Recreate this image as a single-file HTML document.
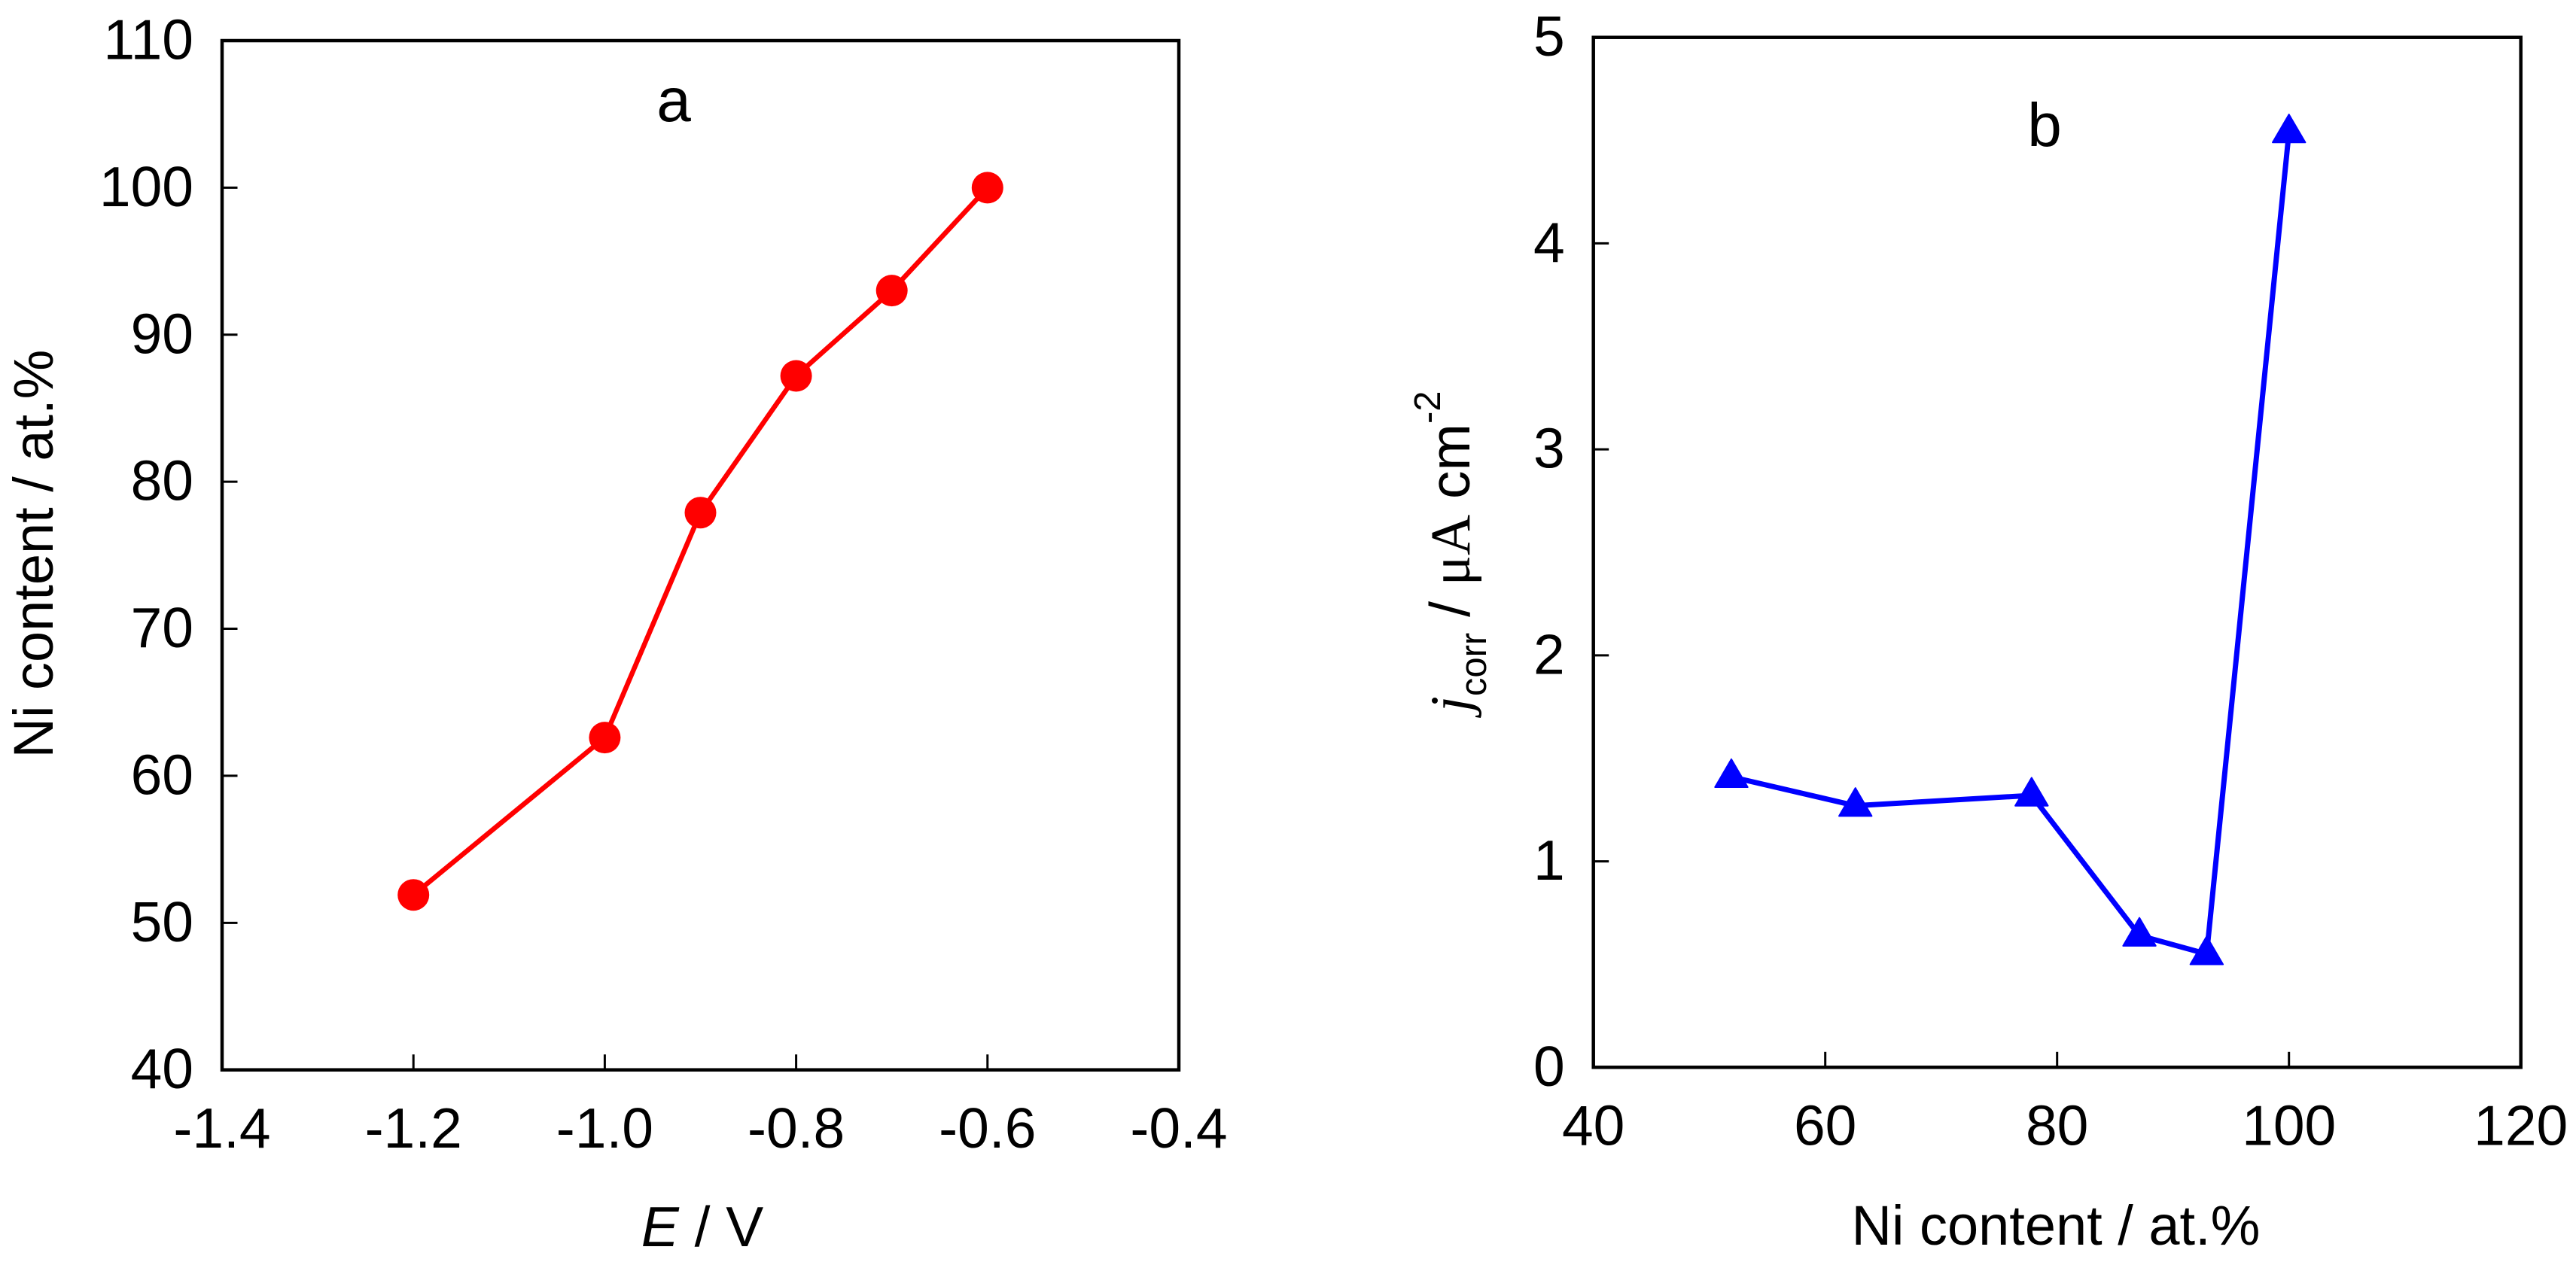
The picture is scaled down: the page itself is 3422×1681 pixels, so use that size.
<!DOCTYPE html>
<html lang="en">
<head>
<meta charset="utf-8">
<title>Ni content and corrosion current charts</title>
<style>
html,body{margin:0;padding:0;background:#fff;}
svg{display:block;}
text{font-family:"Liberation Sans",Arial,sans-serif;font-size:75px;fill:#000;}
</style>
</head>
<body>
<svg id="figure" xmlns="http://www.w3.org/2000/svg" width="3422" height="1681" viewBox="0 0 3422 1681">
  <rect x="0" y="0" width="3422" height="1681" fill="#fff"/>
  <g id="panel-a">
    <rect x="295" y="54" width="1271" height="1367.7" fill="none" stroke="#000" stroke-width="4.5"/>
    <text x="895" y="161" text-anchor="middle" style="font-size:82px">a</text>
    <text x="933" y="1656" text-anchor="middle"><tspan font-style="italic">E</tspan> / V</text>
    <text transform="translate(70 736) rotate(-90)" text-anchor="middle" style="font-size:74px">Ni content / at.%</text>
  </g>
  <g id="panel-b">
    <rect x="2116.7" y="49.7" width="1232" height="1368.6" fill="none" stroke="#000" stroke-width="4.5"/>
    <text x="2716" y="194" text-anchor="middle" style="font-size:82px">b</text>
    <text x="2731" y="1654" text-anchor="middle" style="font-size:74px">Ni content / at.%</text>
    <text transform="translate(1952 946) rotate(-90)"><tspan font-style="italic" font-family="Liberation Serif">j</tspan><tspan dy="22" style="font-size:49px">corr</tspan><tspan dy="-22"> / </tspan><tspan style="font-family:'Liberation Serif'">μA</tspan><tspan> cm</tspan><tspan dy="-39" style="font-size:49px">-2</tspan></text>
  </g>
</svg>
<script>
// Panel a data
const aXTicks = [-1.4, -1.2, -1.0, -0.8, -0.6, -0.4];
const aYTicks = [40, 50, 60, 70, 80, 90, 100, 110];
const potential = [-1.2, -1.0, -0.9, -0.8, -0.7, -0.6];
const niContent = [51.9, 62.6, 77.9, 87.2, 93.0, 100.0];

// Panel b data
const bXTicks = [40, 60, 80, 100, 120];
const bYTicks = [0, 1, 2, 3, 4, 5];
const bNiContent = [51.9, 62.6, 77.8, 87.1, 92.9, 100.0];
const jCorr = [1.41, 1.27, 1.32, 0.64, 0.55, 4.54];

const NS = 'http://www.w3.org/2000/svg';

function linear(d0, d1, r0, r1) {
  return function (v) { return r0 + (v - d0) * (r1 - r0) / (d1 - d0); };
}
function make(parent, tag, attrs) {
  const el = document.createElementNS(NS, tag);
  for (const k in attrs) el.setAttribute(k, attrs[k]);
  parent.appendChild(el);
  return el;
}

const TICK_LEN = 20.5;

function drawAxes(group, prefix, sx, sy, xTicks, yTicks, xFmt, xLabelOffset) {
  const bottom = sy(yTicks[0]);
  const left = sx(xTicks[0]);
  xTicks.forEach(function (t, i) {
    if (i > 0 && i < xTicks.length - 1) {
      const tick = make(group, 'line', {x1: sx(t), x2: sx(t), y1: bottom, y2: bottom - TICK_LEN, stroke: '#000', 'stroke-width': 3});
      
      
    }
    const label = make(group, 'text', {x: sx(t), y: bottom + xLabelOffset, 'text-anchor': 'middle'});
    label.textContent = xFmt(t);
    
    
  });
  yTicks.forEach(function (t, i) {
    if (i > 0 && i < yTicks.length - 1) {
      const tick = make(group, 'line', {x1: left, x2: left + TICK_LEN, y1: sy(t), y2: sy(t), stroke: '#000', 'stroke-width': 3});
      
      
    }
    const label = make(group, 'text', {x: left - 38, y: sy(t) + 24.5, 'text-anchor': 'end'});
    label.textContent = String(t);
    
    
  });
}

// Panel a
const groupA = document.getElementById('panel-a');
const ax = linear(-1.4, -0.4, 295, 1566);
const ay = linear(40, 110, 1421.7, 54);
drawAxes(groupA, 'panel-a', ax, ay, aXTicks, aYTicks, function (v) { return v.toFixed(1); }, 103.3);

const linePtsA = potential.map(function (v, i) { return ax(v) + ',' + ay(niContent[i]); }).join(' ');
const lineA = make(groupA, 'polyline', {points: linePtsA, fill: 'none', stroke: '#f00', 'stroke-width': 6.5, 'stroke-linejoin': 'round'});


potential.forEach(function (v, i) {
  const c = make(groupA, 'circle', {cx: ax(v), cy: ay(niContent[i]), r: 21, fill: '#f00'});
  
  
});

// Panel b
const groupB = document.getElementById('panel-b');
const bx = linear(40, 120, 2116.7, 3348.7);
const by = linear(0, 5, 1418.3, 49.7);
drawAxes(groupB, 'panel-b', bx, by, bXTicks, bYTicks, function (v) { return String(v); }, 103.4);

const linePtsB = bNiContent.map(function (v, i) { return bx(v) + ',' + by(jCorr[i]); }).join(' ');
const lineB = make(groupB, 'polyline', {points: linePtsB, fill: 'none', stroke: '#00f', 'stroke-width': 7, 'stroke-linejoin': 'round'});


bNiContent.forEach(function (v, i) {
  const x = bx(v);
  const y = by(jCorr[i]);
  const d = 'M' + x + ' ' + (y - 23.5) + 'L' + (x + 21.7) + ' ' + (y + 13.7) + 'L' + (x - 21.7) + ' ' + (y + 13.7) + 'Z';
  const tri = make(groupB, 'path', {d: d, fill: '#00f', stroke: '#00f', 'stroke-width': 2, 'stroke-linejoin': 'round'});
  
  
});
</script>
</body>
</html>
